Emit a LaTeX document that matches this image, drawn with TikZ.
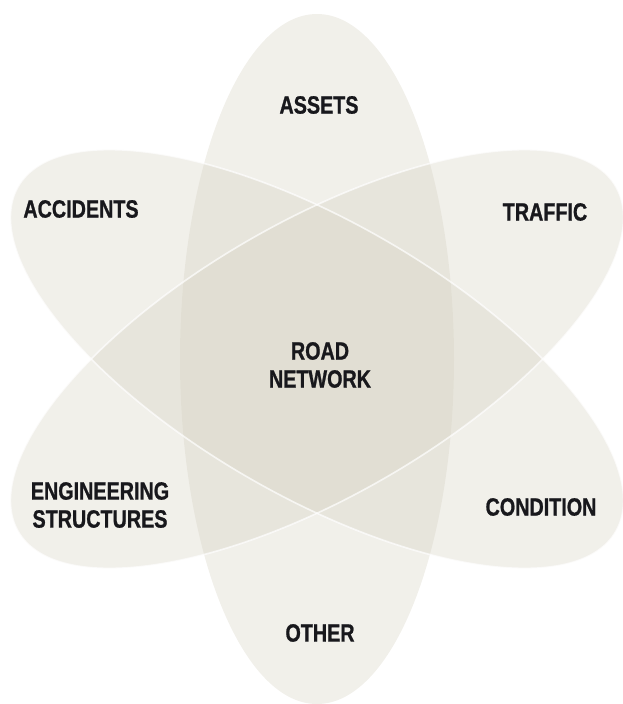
\documentclass[tikz,border=0pt]{standalone}
\usepackage{fontspec}
\newfontfamily\lblfont[FakeStretch=0.79,FakeBold=0.9]{Liberation Sans Bold}
\definecolor{petal}{RGB}{212,208,192}
\definecolor{ink}{RGB}{24,24,28}
\begin{document}
\begin{tikzpicture}[x=1pt,y=-1pt,
  petalfill/.style={fill=petal,fill opacity=0.33},
  petaledge/.style={draw=white,draw opacity=0.7,line width=1.6pt},
  lbl/.style={font=\lblfont\fontsize{25}{28}\selectfont,text=ink,align=center,inner sep=0pt}]
\useasboundingbox (0,0) rectangle (622,704);
\coordinate (c) at (317,359);
% petals
\fill[petalfill] (c) ellipse [x radius=137, y radius=345];
\fill[petalfill,rotate around={60:(c)}] (c) ellipse [x radius=137, y radius=345];
\fill[petalfill,rotate around={-60:(c)}] (c) ellipse [x radius=137, y radius=345];
\draw[petaledge,rotate around={60:(c)}] (c) ellipse [x radius=137, y radius=345];
\draw[petaledge,rotate around={-60:(c)}] (c) ellipse [x radius=137, y radius=345];
% labels
\node[lbl] (assets) at (319,105) {ASSETS};
\node[lbl] (other) at (320,633) {OTHER};
\node[lbl] (accidents) at (81,209) {ACCIDENTS};
\node[lbl] (traffic) at (545,212) {TRAFFIC};
\node[lbl] (road) at (320,365) {ROAD\\NETWORK};
\node[lbl] (eng) at (100,505) {ENGINEERING\\STRUCTURES};
\node[lbl] (condition) at (541,507) {CONDITION};
\end{tikzpicture}
\end{document}
